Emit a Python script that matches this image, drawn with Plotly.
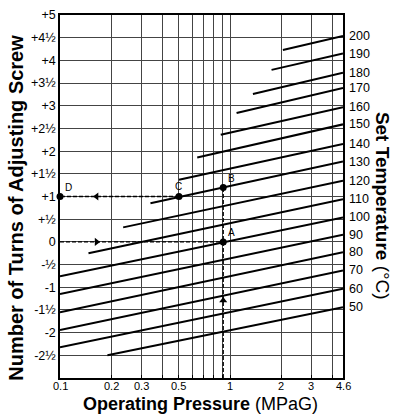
import math
import plotly.graph_objects as go

# ---------------- data ----------------
temps = [200, 190, 180, 170, 160, 150, 140, 130, 120, 110, 100, 90, 80, 70, 60, 50]
start_p = [2.04, 1.75, 1.36, 1.09, 0.88, 0.64, 0.50, 0.34, 0.235, 0.147, 0.1, 0.1, 0.1, 0.1, 0.1, 0.19]
start_t = [4.23, 3.79, 3.26, 2.84, 2.36, 1.86, 1.37, 0.85, 0.32, -0.25, -0.76, -1.15, -1.55, -1.94, -2.32, -2.50]
end_t = [4.54, 4.15, 3.73, 3.39, 2.97, 2.59, 2.16, 1.77, 1.35, 0.94, 0.54, 0.16, -0.23, -0.63, -1.03, -1.44]
P_MIN, P_MAX = 0.1, 4.6
T_MIN, T_MAX = -3, 5

x_grid = [0.1, 0.2, 0.3, 0.4, 0.5, 0.6, 0.7, 0.8, 0.9, 1, 2, 3, 4, 4.6]
x_label_vals = [0.1, 0.2, 0.3, 0.5, 1, 2, 3, 4.6]
x_label_text = ["0.1", "0.2", "0.3", "0.5", "1", "2", "3", "4.6"]
y_grid = [-3, -2.5, -2, -1.5, -1, -0.5, 0, 0.5, 1, 1.5, 2, 2.5, 3, 3.5, 4, 4.5, 5]
y_labels = ["", "-2½", "-2", "-1½", "-1", "-½", "0", "+½", "+1", "+1½", "+2", "+2½",
            "+3", "+3½", "+4", "+4½", "+5"]

# example points
pt_names = ["A", "B", "C", "D"]
pt_p = [0.91, 0.91, 0.5, 0.1]
pt_t = [0.0, 1.2, 1.0, 1.0]

FONT = "Liberation Sans, Arial, sans-serif"

fig = go.Figure()

# temperature lines
for T, sp, st, et in zip(temps, start_p, start_t, end_t):
    fig.add_trace(go.Scatter(x=[sp, P_MAX], y=[st, et], mode="lines",
                             line=dict(color="black", width=2), hoverinfo="skip",
                             showlegend=False))

A = dict(p=pt_p[0], t=pt_t[0])
B = dict(p=pt_p[1], t=pt_t[1])
C = dict(p=pt_p[2], t=pt_t[2])
D = dict(p=pt_p[3], t=pt_t[3])

dash = dict(color="black", width=1.3, dash="4px,2px")
# horizontal from left edge to A
fig.add_trace(go.Scatter(x=[P_MIN, A["p"]], y=[A["t"], A["t"]], mode="lines", line=dash,
                         showlegend=False, hoverinfo="skip"))
# vertical from bottom to B
fig.add_trace(go.Scatter(x=[A["p"], B["p"]], y=[T_MIN, B["t"]], mode="lines", line=dash,
                         showlegend=False, hoverinfo="skip"))
# horizontal from C to D
fig.add_trace(go.Scatter(x=[C["p"], D["p"]], y=[C["t"], D["t"]], mode="lines", line=dash,
                         showlegend=False, hoverinfo="skip"))

# arrowheads
arrow_p = 10 ** (math.log10(P_MIN) + 0.215)
fig.add_trace(go.Scatter(x=[arrow_p], y=[A["t"]], mode="markers",
                         marker=dict(symbol="triangle-right", size=7, color="black"),
                         showlegend=False, hoverinfo="skip"))
fig.add_trace(go.Scatter(x=[arrow_p], y=[D["t"]], mode="markers",
                         marker=dict(symbol="triangle-left", size=7, color="black"),
                         showlegend=False, hoverinfo="skip"))
fig.add_trace(go.Scatter(x=[A["p"]], y=[T_MIN + 0.57 * (A["t"] - T_MIN)], mode="markers",
                         marker=dict(symbol="triangle-up", size=7, color="black"),
                         showlegend=False, hoverinfo="skip"))

# points
fig.add_trace(go.Scatter(x=pt_p, y=pt_t, mode="markers",
                         marker=dict(size=7, color="black"), cliponaxis=False,
                         showlegend=False, hoverinfo="skip"))

annotations = []
offsets = {"A": (3, 9, "left"), "B": (3, 9, "left"), "C": (0, 10, "center"), "D": (3, 9, "left")}
for n, p, t in zip(pt_names, pt_p, pt_t):
    dx, dy, xa = offsets[n]
    annotations.append(dict(x=math.log10(p), y=t, xref="x", yref="y", text=n, showarrow=False,
                            xanchor=xa, yanchor="middle", xshift=dx, yshift=dy,
                            font=dict(family=FONT, size=10, color="black")))

# temperature labels at line ends
for T, et in zip(temps, end_t):
    annotations.append(dict(x=math.log10(P_MAX), y=et, xref="x", yref="y", text=str(T),
                            showarrow=False, xanchor="left", yanchor="middle", xshift=4,
                            font=dict(family=FONT, size=12.5, color="black")))

# x tick labels (placed close under the axis)
for v, s in zip(x_label_vals, x_label_text):
    annotations.append(dict(x=math.log10(v), y=0, xref="x", yref="paper", text=s,
                            showarrow=False, xanchor="center", yanchor="top", yshift=-1,
                            borderpad=0,
                            font=dict(family=FONT, size=11, color="black")))

# axis titles
annotations.append(dict(x=0.4947, y=-0.071, xref="paper", yref="paper",
                        text="<b>Operating Pressure</b> (MPaG)", showarrow=False,
                        xanchor="center", yanchor="middle", borderpad=0,
                        font=dict(family=FONT, size=18, color="black")))
annotations.append(dict(x=-0.1537, y=0.4676, xref="paper", yref="paper",
                        text="<b>Number of Turns of Adjusting Screw</b>", showarrow=False,
                        textangle=-90, xanchor="center", yanchor="middle",
                        font=dict(family=FONT, size=20, color="black")))
annotations.append(dict(x=1.138, y=0.474, xref="paper", yref="paper",
                        text="<b>Set Temperature</b> (°C)", showarrow=False,
                        textangle=90, xanchor="center", yanchor="middle",
                        font=dict(family=FONT, size=19, color="black")))

fig.update_layout(
    width=398, height=420,
    margin=dict(l=60, r=55, t=8, b=42),
    paper_bgcolor="white", plot_bgcolor="white",
    annotations=annotations,
    font=dict(family=FONT, color="black"),
)
fig.update_xaxes(type="log", range=[math.log10(P_MIN), math.log10(P_MAX)],
                 tickvals=x_grid, showticklabels=False,
                 showgrid=True, gridcolor="#444", gridwidth=1.3,
                 showline=True, linecolor="black", linewidth=1.5, mirror=True,
                 ticks="inside", ticklen=3, tickcolor="black", tickwidth=1,
                 zeroline=False)
fig.update_yaxes(range=[T_MIN, T_MAX], tickvals=y_grid, ticktext=y_labels,
                 showgrid=True, gridcolor="#444", gridwidth=1.3,
                 showline=True, linecolor="black", linewidth=1.5, mirror=True,
                 ticks="", ticklen=0,
                 tickfont=dict(family=FONT, size=12.5, color="black"), zeroline=False)

fig.write_html("out.html")
